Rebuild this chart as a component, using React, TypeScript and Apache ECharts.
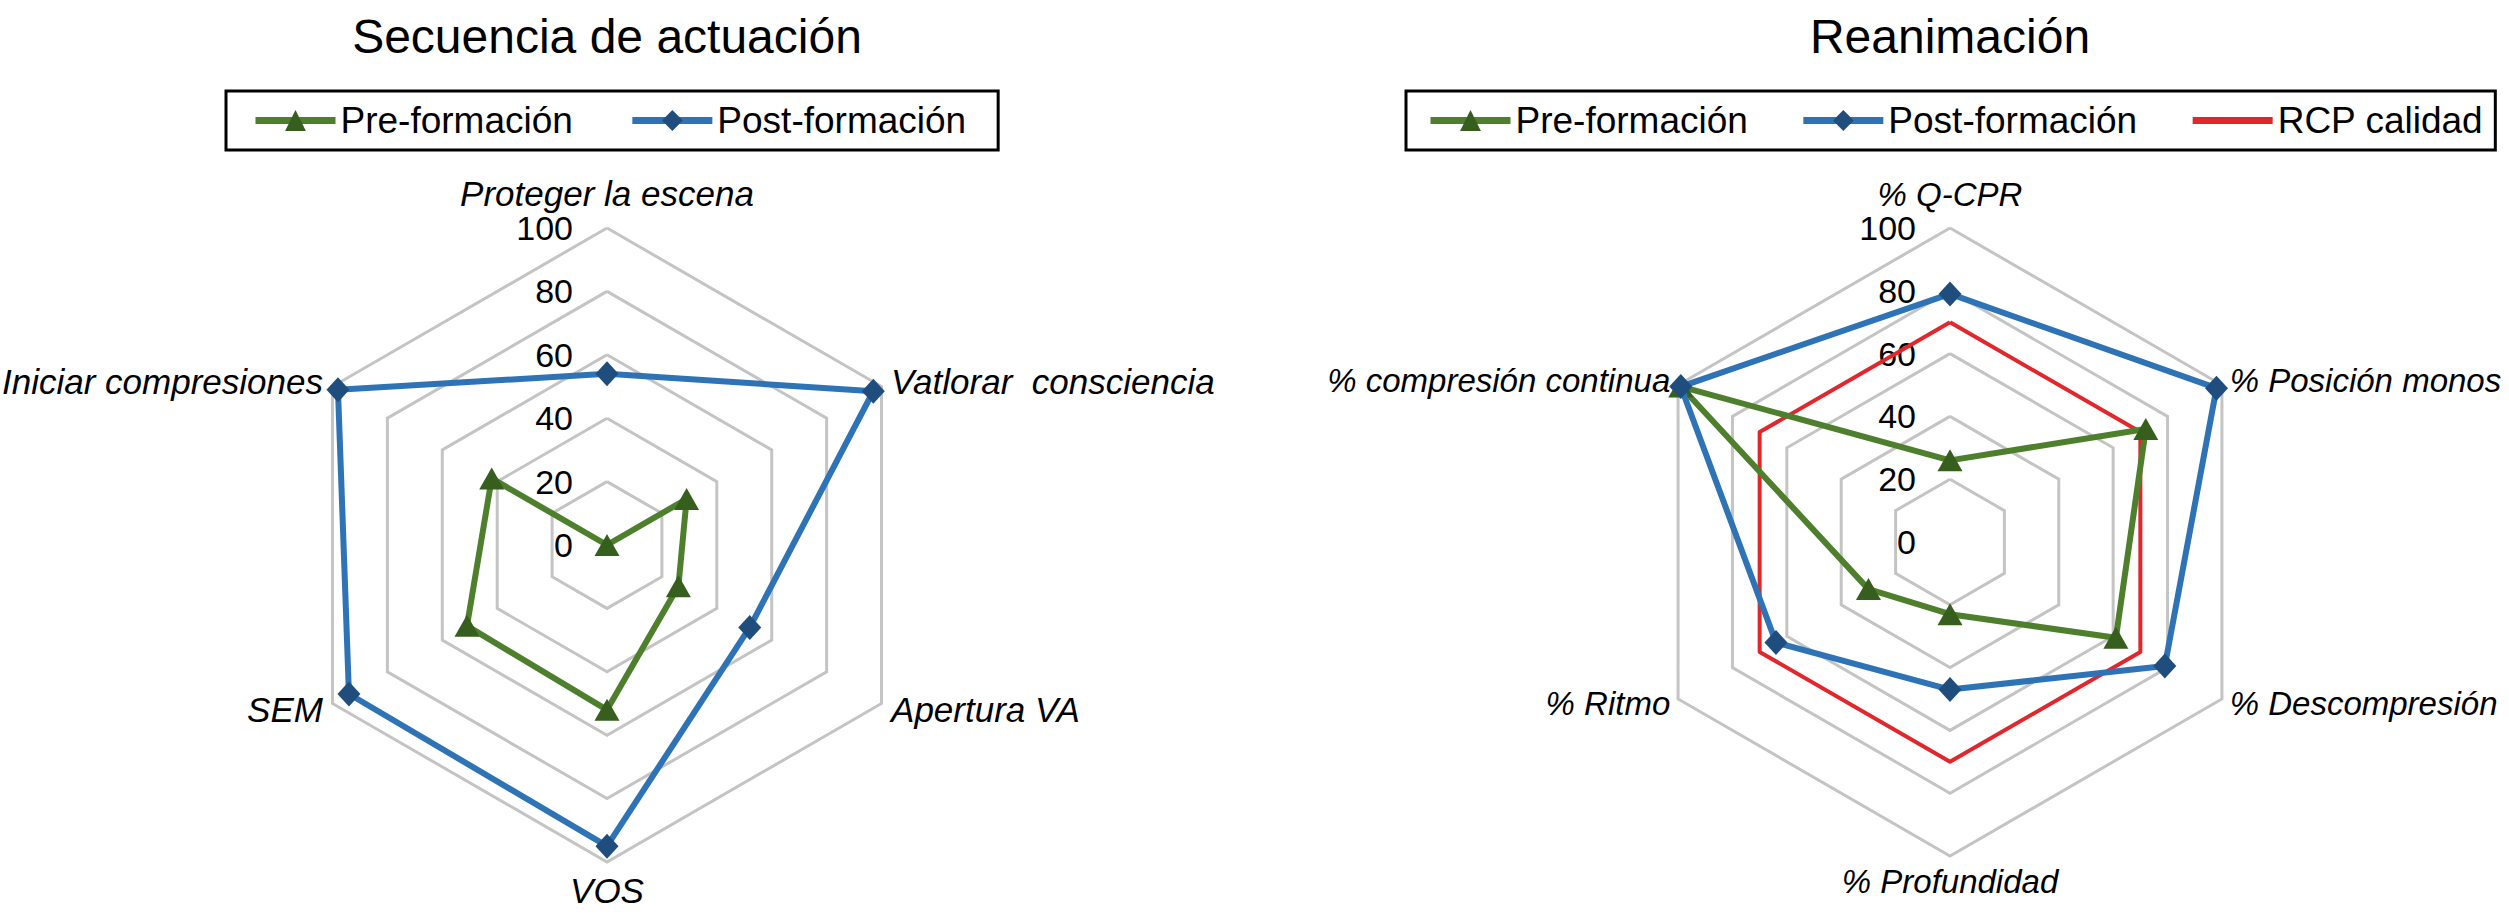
import React, { useEffect, useRef } from "react";
import * as echarts from "echarts";

// ---- Data (clockwise from the top axis) ----
const leftTitle = "Secuencia de actuación";
const rightTitle = "Reanimación";
const seriesNames = ["Pre-formación", "Post-formación", "RCP calidad"];

const leftCategories = [
  "Proteger la escena",
  "Vatlorar  consciencia",
  "Apertura VA",
  "VOS",
  "SEM",
  "Iniciar compresiones",
];
const leftPre = [0, 29, 26, 52, 51, 42];
const leftPost = [54, 97, 52, 95, 94, 98];

const rightCategories = [
  "% Q-CPR",
  "% Posición monos",
  "% Descompresión",
  "% Profundidad",
  "% Ritmo",
  "% compresión continua",
];
const rightPre = [26, 72, 61, 23, 30, 99];
const rightPost = [79, 98, 79, 47, 64, 99];
const rightRcp = [70, 70, 70, 70, 70, 70];

const axisMin = 0;
const axisMax = 100;
const axisSplits = 5;

// ---- Styles ----
const FONT = '"Liberation Sans", Arial, Helvetica, sans-serif';
const GREEN = "#4e7f2c";
const GREEN_DARK = "#365e1c";
const BLUE = "#2e73b5";
const BLUE_DARK = "#1f4e7e";
const RED = "#e3262c";
const GRID_GRAY = "#c4c4c4";

// ECharts lays radar indicators out counter-clockwise; the source lists clockwise.
const ccw = <T,>(arr: T[]): T[] => [arr[0], ...arr.slice(1).reverse()];

function indicators(cats: string[]) {
  return ccw(cats).map((name, i) => {
    const ind: any = { name, min: axisMin, max: axisMax };
    if (i === 0) {
      ind.axisLabel = {
        show: true,
        color: "#000",
        fontSize: 34,
        fontFamily: FONT,
        margin: 34,
      };
    }
    return ind;
  });
}

function radarBase(center: number[], radius: number, cats: string[], nameSize: number, nameGap: number) {
  return {
    center,
    radius,
    startAngle: 90,
    splitNumber: axisSplits,
    shape: "polygon",
    nameGap,
    axisName: {
      color: "#000",
      fontSize: nameSize,
      fontStyle: "italic",
      fontFamily: FONT,
    },
    axisLine: { show: false },
    axisTick: { show: false },
    axisLabel: { show: false, color: "#000", fontSize: 34, fontFamily: FONT },
    splitLine: { lineStyle: { color: GRID_GRAY, width: 3 } },
    splitArea: { show: false },
    indicator: indicators(cats),
  };
}

const styles: Record<string, any> = {
  [seriesNames[0]]: {
    symbol: "triangle",
    symbolSize: [25, 22],
    lineStyle: { color: GREEN, width: 6 },
    itemStyle: { color: GREEN_DARK },
    legendMarker: GREEN_DARK,
  },
  [seriesNames[1]]: {
    symbol: "diamond",
    symbolSize: [23, 25],
    lineStyle: { color: BLUE, width: 6 },
    itemStyle: { color: BLUE_DARK },
    legendMarker: BLUE_DARK,
  },
  [seriesNames[2]]: {
    symbol: "none",
    symbolSize: 0,
    lineStyle: { color: RED, width: 4 },
    itemStyle: { color: RED },
    legendMarker: "rgba(0,0,0,0)",
  },
};

function radarSeries(name: string, radarIndex: number, values: number[], z: number) {
  const s = styles[name];
  return {
    type: "radar",
    name,
    radarIndex,
    z,
    symbol: s.symbol,
    symbolSize: s.symbolSize,
    lineStyle: s.lineStyle,
    itemStyle: s.itemStyle,
    data: [{ value: ccw(values), name }],
  };
}

// Hidden line series only to give the legend line+marker icons.
function legendSeries(name: string) {
  const s = styles[name];
  return {
    type: "line",
    name,
    xAxisIndex: 0,
    yAxisIndex: 0,
    symbol: s.symbol === "none" ? "circle" : s.symbol,
    lineStyle: { color: s.lineStyle.color, width: 7 },
    itemStyle: { color: s.legendMarker },
    data: [],
  };
}

const legendText = { fontSize: 37, color: "#000", fontFamily: FONT };

function legendBox(names: string[], left: number, gap: number, padding: number[]) {
  return {
    data: names,
    left,
    top: 91,
    itemWidth: 80,
    itemHeight: 26,
    itemGap: gap,
    padding,
    borderColor: "#000",
    borderWidth: 3,
    selectedMode: false,
    lineStyle: { width: 7 },
    textStyle: legendText,
  };
}

export default function App() {
  const ref = useRef<HTMLDivElement>(null);

  useEffect(() => {
    if (!ref.current) return;
    const chart = echarts.init(ref.current, undefined, { renderer: "svg" });
    const titleStyle = { fontSize: 48, fontWeight: "normal", color: "#000", fontFamily: FONT };
    chart.setOption({
      animation: false,
      backgroundColor: "#ffffff",
      title: [
        { text: leftTitle, left: 607, top: 12, padding: 0, textAlign: "center", textStyle: titleStyle },
        { text: rightTitle, left: 1950, top: 12, padding: 0, textAlign: "center", textStyle: titleStyle },
      ],
      legend: [
        legendBox([seriesNames[0], seriesNames[1]], 226, 56, [11, 32, 11, 26]),
        legendBox([seriesNames[0], seriesNames[1], seriesNames[2]], 1406, 52, [11, 12, 11, 21]),
      ],
      grid: { show: false, left: 0, top: 0, width: 10, height: 10 },
      xAxis: { show: false, type: "category", data: [] },
      yAxis: { show: false, type: "value" },
      radar: [
        radarBase([607, 545], 317, leftCategories, 35, 11),
        radarBase([1950, 542], 314, rightCategories, 33, 9),
      ],
      series: [
        legendSeries(seriesNames[0]),
        legendSeries(seriesNames[1]),
        legendSeries(seriesNames[2]),
        radarSeries(seriesNames[0], 0, leftPre, 3),
        radarSeries(seriesNames[1], 0, leftPost, 4),
        radarSeries(seriesNames[2], 1, rightRcp, 2),
        radarSeries(seriesNames[0], 1, rightPre, 3),
        radarSeries(seriesNames[1], 1, rightPost, 4),
      ],
    });
    return () => chart.dispose();
  }, []);

  return (
    <div
      ref={ref}
      style={{ position: "absolute", left: 0, top: 0, width: 2509, height: 922, background: "#fff" }}
    />
  );
}
